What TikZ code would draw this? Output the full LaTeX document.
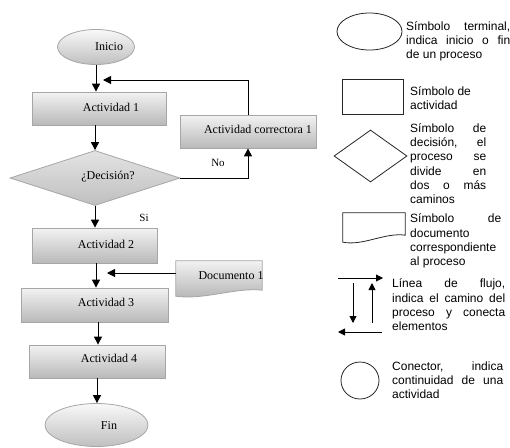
\documentclass[tikz,border=0pt]{standalone}
\usepackage{fontspec}
\setmainfont{Liberation Serif}
\newfontfamily\legfont{Liberation Sans}
\usetikzlibrary{shapes.geometric,arrows.meta}
\begin{document}
\begin{tikzpicture}[x=1pt,y=-1pt,
  box/.style={rectangle, draw=gray!70, line width=0.8pt, top color=gray!10, bottom color=gray!55, inner sep=0pt},
  term/.style={ellipse, draw=gray!70, line width=0.8pt, top color=gray!5, bottom color=gray!50, inner sep=0pt},
  decis/.style={diamond, draw=gray!70, line width=0.8pt, top color=gray!22, bottom color=gray!50, inner sep=0pt},
  docshape/.style={draw=gray!70, line width=0.8pt, top color=gray!10, bottom color=gray!60},
  arr/.style={line width=1pt, -{Triangle[length=8pt,width=8pt]}},
  lbl/.style={font=\fontsize{12}{14}\selectfont},
  legshape/.style={draw=black!85, line width=0.8pt, fill=white, inner sep=0pt},
  legtext/.style={anchor=base west, inner sep=0pt, font=\legfont\fontsize{12}{14.2}\selectfont, align=left},
  larr/.style={line width=0.9pt, -{Triangle[length=7pt,width=7pt]}}
]
\useasboundingbox (0,0) rectangle (510,447);

% ---- flowchart ----
\node[term, minimum width=77pt, minimum height=35pt, label={[lbl, xshift=13pt]center:Inicio}] (ini) at (96,47) {};
\node[box, minimum width=134pt, minimum height=33pt, label={[lbl, xshift=12pt, yshift=1pt]center:Actividad 1}] (a1) at (99,108.5) {};
\node[decis, minimum width=170pt, minimum height=55pt, label={[lbl, xshift=13pt, yshift=1pt]center:¿Decisión?}] (dec) at (95,178) {};
\node[box, minimum width=136pt, minimum height=33pt, label={[lbl, xshift=10pt, yshift=2pt]center:Actividad correctora 1}] (corr) at (248,131.5) {};
\node[box, minimum width=125pt, minimum height=35pt, label={[lbl, xshift=11.5pt, yshift=1.5pt]center:Actividad 2}] (a2) at (94.5,245.5) {};
\node[minimum width=86pt, minimum height=35pt, inner sep=0pt] (doc) at (219,278.5) {};
\path[docshape] (doc.north west) -- (doc.north east) -- ([yshift=6pt]doc.south east)
  .. controls +(-27,-3) and +(29,4) .. (doc.south west) -- cycle;
\node[lbl] (doctext) at (231,276) {Documento 1};
\node[box, minimum width=147pt, minimum height=34pt, label={[lbl, xshift=11.5pt, yshift=3pt]center:Actividad 3}] (a3) at (94.5,305) {};
\node[box, minimum width=136pt, minimum height=33pt, label={[lbl, xshift=12pt, yshift=3.5pt]center:Actividad 4}] (a4) at (97,361.5) {};
\node[term, minimum width=103pt, minimum height=43pt, label={[lbl, xshift=12.5pt, yshift=-1pt]center:Fin}] (fin) at (96.5,425) {};

\coordinate (fb) at (103,80);
\coordinate (docin) at (107,273);

\draw[arr] (ini.south) -- (ini.south |- a1.north);
\draw[arr] (a1.south -| dec.north) -- (dec.north);
\draw[arr] (dec.south) -- (dec.south |- a2.north);
\draw[arr] (a2.south -| 96,0) -- (96,0 |- a3.north);
\draw[arr] (a3.south -| 98,0) -- (98,0 |- a4.north);
\draw[arr] (a4.south -| 97,0) -- (97,0 |- fin.north);
\draw[arr] (dec.east) -| (corr.south);
\draw[arr] (corr.north) |- (fb);
\draw[arr] (doc.west |- docin) -- (docin);

\node[lbl, font=\fontsize{11}{13}\selectfont] (no) at (218,163) {No};
\node[lbl, font=\fontsize{11}{13}\selectfont] (si) at (144,218) {Si};

% ---- legend ----
\node[legshape, ellipse, minimum width=65pt, minimum height=37pt] (lterm) at (369.5,31.5) {};
\node[legtext] (t1) at (406,58.5) {\makebox[104pt][s]{Símbolo terminal,}\\\makebox[104pt][s]{indica inicio o fin}\\de un proceso};

\node[legshape, rectangle, minimum width=61pt, minimum height=35pt] (lrect) at (372.5,96.5) {};
\node[legtext] (t2) at (410,109.5) {Símbolo de\\actividad};

\node[legshape, diamond, minimum width=73pt, minimum height=52pt] (ldia) at (370.5,156) {};
\node[legtext] (t3) at (410,203.5) {\makebox[76pt][s]{Símbolo de}\\\makebox[76pt][s]{decisión, el}\\\makebox[76pt][s]{proceso se}\\\makebox[76pt][s]{divide en}\\\makebox[76pt][s]{dos o más}\\caminos};

\node[minimum width=62pt, minimum height=29pt, inner sep=0pt] (ldoc) at (374,227.5) {};
\path[draw=black!85, line width=0.8pt, fill=white] (ldoc.north west) -- (ldoc.north east) -- ([yshift=7pt]ldoc.south east)
  .. controls +(-20,-3) and +(20,4) .. (ldoc.south west) -- cycle;
\node[legtext] (t4) at (410,265.5) {\makebox[91pt][s]{Símbolo de}\\documento\\correspondiente\\al proceso};

\coordinate (f1a) at (338,278); \coordinate (f1b) at (383,278);
\coordinate (f2a) at (353,283); \coordinate (f2b) at (353,323);
\coordinate (f3a) at (372,323); \coordinate (f3b) at (372,283);
\coordinate (f4a) at (382,332); \coordinate (f4b) at (338,332);
\draw[larr] (f1a) -- (f1b);
\draw[larr] (f2a) -- (f2b);
\draw[larr] (f3a) -- (f3b);
\draw[larr] (f4a) -- (f4b);
\node[legtext] (t5) at (392,330.5) {\makebox[113pt][s]{Línea de flujo,}\\\makebox[113pt][s]{indica el camino del}\\\makebox[113pt][s]{proceso y conecta}\\elementos};

\node[legshape, ellipse, minimum width=38pt, minimum height=37pt] (lcon) at (360,380.5) {};
\node[legtext] (t6) at (392,398.5) {\makebox[111pt][s]{Conector, indica}\\\makebox[111pt][s]{continuidad de una}\\actividad};
\end{tikzpicture}
\end{document}
